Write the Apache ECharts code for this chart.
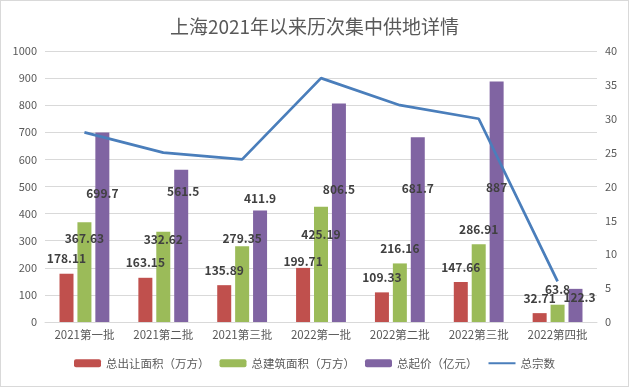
<!DOCTYPE html>
<html><head><meta charset="utf-8">
<script src="https://cdn.jsdelivr.net/npm/echarts@6/dist/echarts.min.js"></script>
<style>html,body{margin:0;padding:0;background:#fff}#c{width:629px;height:387px;box-sizing:border-box;border:1px solid #d9d9d9}</style>
</head><body><div id="c"></div>
<script>
const categories = ['2021第一批','2021第二批','2021第三批','2022第一批','2022第二批','2022第三批','2022第四批'];
const transferArea = [178.11,163.15,135.89,199.71,109.33,147.66,32.71];
const buildArea = [367.63,332.62,279.35,425.19,216.16,286.91,63.8];
const startPrice = [699.7,561.5,411.9,806.5,681.7,887,122.3];
const lotCount = [28,25,24,36,32,30,6];
const leftTicks = {min:0,max:1000,interval:100};
const rightTicks = {min:0,max:40,interval:5};

// label nudges (style only, px) mimicking manually moved labels in the source
const redNudge = [0,0,0,9,0,0,0];
const greenNudge = [31,23,7,43,0,0,0];
const purpleNudge = [76,37,3,101,66,121,24];
const FONT = '"Noto Sans CJK SC", "Noto Sans", sans-serif';

function items(vals, nudges, dx){
  return vals.map((v,i)=>({value:v,label:{offset:[(dx&&dx[i])||0,nudges[i]]}}));
}
const lbl = {show:true,position:'top',distance:9,color:'#404040',fontWeight:'bold',fontSize:12,fontFamily:FONT};

const chart = echarts.init(document.getElementById('c'));
chart.setOption({
  animation:false,
  textStyle:{fontFamily:FONT},
  title:{text:'上海2021年以来历次集中供地详情',left:'center',top:11,textStyle:{fontSize:19,fontWeight:'normal',color:'#595959',fontFamily:FONT}},
  grid:{left:44,right:31,top:50,bottom:64},
  legend:{bottom:12,itemWidth:27,itemHeight:8,itemGap:10,textStyle:{fontSize:11.5,color:'#595959',fontFamily:FONT},
    data:['总出让面积（万方）','总建筑面积（万方）','总起价（亿元）',{name:'总宗数',itemStyle:{opacity:0}}]},
  xAxis:{type:'category',data:categories,axisTick:{show:false},
    axisLine:{lineStyle:{color:'#d9d9d9'}},
    axisLabel:{color:'#595959',fontSize:11.5,margin:7,fontFamily:FONT}},
  yAxis:[
    {type:'value',min:leftTicks.min,max:leftTicks.max,interval:leftTicks.interval,
     splitLine:{lineStyle:{color:'#d9d9d9'}},axisLine:{show:false},axisTick:{show:false},
     axisLabel:{color:'#595959',fontSize:11,margin:8,fontFamily:FONT,formatter:v=>String(v)}},
    {type:'value',min:rightTicks.min,max:rightTicks.max,interval:rightTicks.interval,
     splitLine:{show:false},axisLine:{show:false},axisTick:{show:false},
     axisLabel:{color:'#595959',fontSize:11,margin:8,fontFamily:FONT,formatter:v=>String(v)}}
  ],
  series:[
    {name:'总出让面积（万方）',type:'bar',data:items(transferArea,redNudge),barWidth:14,barGap:'28%',
     itemStyle:{color:'#C0504D'},label:lbl,z:2},
    {name:'总建筑面积（万方）',type:'bar',data:items(buildArea,greenNudge),barWidth:14,barGap:'28%',
     itemStyle:{color:'#9BBB59'},label:lbl,z:2},
    {name:'总起价（亿元）',type:'bar',data:items(startPrice,purpleNudge,[0,2,0,0,0,0,4]),barWidth:14,barGap:'28%',
     itemStyle:{color:'#8064A2'},label:lbl,z:2},
    {name:'总宗数',type:'line',yAxisIndex:1,data:lotCount,symbol:'none',
     lineStyle:{color:'#4A7EBB',width:2.75},itemStyle:{color:'#4A7EBB'},z:3}
  ]
});
</script></body></html>
